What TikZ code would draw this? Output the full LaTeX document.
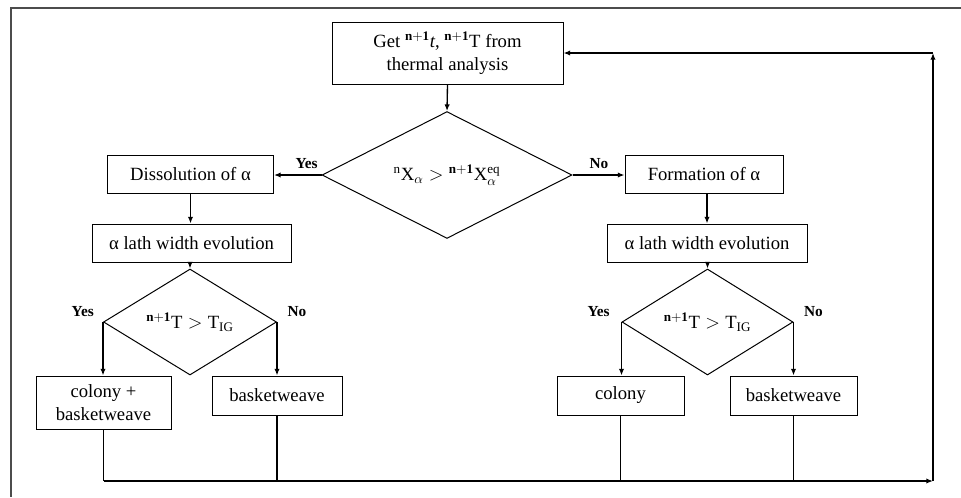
\documentclass[tikz,border=0pt]{standalone}
\usepackage{fontspec}
\setmainfont{Liberation Serif}
\usetikzlibrary{shapes.geometric,arrows.meta,positioning}

\tikzset{every picture/.style={line width=0.75pt}}
\tikzset{
  blk/.style={draw, line width=0.75pt, align=center, inner sep=2pt, font=\fontsize{14}{17.5}\selectfont},
  dec/.style={draw, diamond, line width=0.75pt, inner sep=0pt, font=\fontsize{14}{17}\selectfont},
  lbl/.style={font=\fontsize{11.5}{13}\selectfont\bfseries, inner sep=0.5pt},
  flow/.style={line width=1pt, -{Latex[length=5pt,width=4pt]}},
  wire/.style={line width=1pt}
}

\begin{document}
\begin{tikzpicture}[x=0.75pt,y=0.75pt,yscale=-1,xscale=1]

\useasboundingbox (0,0) rectangle (961,497);
\draw [line width=1.2pt, black!70] (10,8) -- (961,8) ;
\draw [line width=1.2pt, black!70] (11,8) -- (11,497) ;

\node [blk, minimum width=173.25pt, minimum height=46.5pt] (get) at (447.5,53) {Get $^{\mathbf{n+1}}$\textit{t}, $^{\mathbf{n+1}}$T from\\thermal analysis};
\node [dec, minimum width=187.5pt, minimum height=58.5pt] (cmp) at (447,175) {${}^{\mathrm{n}}\mathrm{X}_{\alpha} > {}^{\mathbf{n+1}}\mathrm{X}_{\alpha}^{\mathrm{eq}}$};

\node [blk, minimum width=124.5pt, minimum height=28.5pt] (diss) at (190.5,174) {Dissolution of α};
\node [blk, minimum width=149.25pt, minimum height=28.5pt] (lathL) at (191.5,243) {α lath width evolution};
\node [dec, minimum width=129.75pt, minimum height=54pt] (tigL) at (190,322) {${}^{\mathbf{n+1}}\mathrm{T} > \mathrm{T}_{\mathrm{IG}}$};
\node [blk, minimum width=101.25pt, minimum height=39.75pt] (colbw) at (103.5,402.5) {colony +\\basketweave};
\node [blk, minimum width=97.5pt, minimum height=29.25pt] (bwL) at (277,395.5) {basketweave};

\node [blk, minimum width=118.5pt, minimum height=28.5pt] (form) at (704,174) {Formation of α};
\node [blk, minimum width=150pt, minimum height=28.5pt] (lathR) at (707,243) {α lath width evolution};
\node [dec, minimum width=128.25pt, minimum height=54pt] (tigR) at (707.5,322) {${}^{\mathbf{n+1}}\mathrm{T} > \mathrm{T}_{\mathrm{IG}}$};
\node [blk, minimum width=95.25pt, minimum height=29.25pt] (col) at (620.5,395.5) {colony};
\node [blk, minimum width=95.25pt, minimum height=29.25pt] (bwR) at (793.5,395.5) {basketweave};

\node [lbl, above left=4pt and 2pt of cmp.west] (cmpyes) {Yes};
\node [lbl, above right=4pt and 12pt of cmp.east] (cmpno) {No};
\node [lbl, above left=3pt and 6pt of tigL.west] (tigLyes) {Yes};
\node [lbl, above right=3pt and 7pt of tigL.east] (tigLno) {No};
\node [lbl, above left=3pt and 8pt of tigR.west] (tigRyes) {Yes};
\node [lbl, above right=3pt and 7pt of tigR.east] (tigRno) {No};

\coordinate (ret) at (933,481);

\draw [flow] (get.south) -- (cmp.north) ;
\draw [flow] (cmp.west) -- (diss.east |- cmp.west) ;
\draw [flow] (cmp.east) -- (form.west |- cmp.east) ;

\draw [flow] (diss.south) -- (diss.south |- lathL.north) ;
\draw [flow] (lathL.south -| tigL.north) -- (tigL.north) ;
\draw [flow] (tigL.west) -- (tigL.west |- colbw.north) ;
\draw [flow] (tigL.east) -- (tigL.east |- bwL.north) ;

\draw [flow] (form.south -| lathR.north) -- (lathR.north) ;
\draw [flow] (lathR.south -| tigR.north) -- (tigR.north) ;
\draw [flow] (tigR.west) -- (tigR.west |- col.north) ;
\draw [flow] (tigR.east) -- (tigR.east |- bwR.north) ;

\draw [wire] (colbw.south) -- (colbw.south |- ret) ;
\draw [wire] (bwL.south) -- (bwL.south |- ret) ;
\draw [wire] (col.south) -- (col.south |- ret) ;
\draw [wire] (bwR.south) -- (bwR.south |- ret) ;
\draw [flow] (colbw.south |- ret) -- (ret) ;
\draw [flow] (ret) -- (ret |- get.east) ;
\draw [flow] (ret |- get.east) -- (get.east) ;

\end{tikzpicture}
\end{document}
